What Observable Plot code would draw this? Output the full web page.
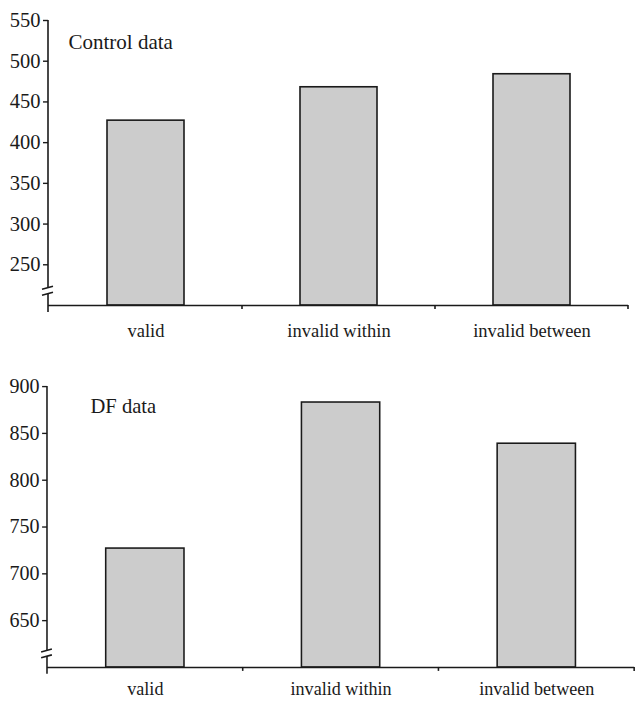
<!DOCTYPE html>
<html><head><meta charset="utf-8">
<script src="https://cdn.jsdelivr.net/npm/d3@7"></script>
<script src="https://cdn.jsdelivr.net/npm/@observablehq/plot@0.6"></script>
<style>
html,body{margin:0;padding:0;background:#fff}
body{width:642px;height:706px;overflow:hidden}
#wrap{width:642px;height:706px;overflow:hidden}
#wrap svg{display:block;font-family:"Liberation Serif","Times New Roman",Times,serif !important}
#wrap svg text{font-family:"Liberation Serif","Times New Roman",Times,serif !important}
</style></head><body><div id="wrap"></div>
<script>
const categories = ["valid", "invalid within", "invalid between"];
const controlValues = [427, 468, 484];
const dfValues = [727, 883, 839];
const controlTicks = [250, 300, 350, 400, 450, 500, 550];
const dfTicks = [650, 700, 750, 800, 850, 900];
const controlDomain = [200, 550];
const dfDomain = [600, 900];
const controlBreak = 218;
const dfBreak = 615;
const titles = ["Control data", "DF data"];

const ink = "#1a1a1a";
const serif = "Liberation Serif";

function panel(o) {
  const data = categories.map((c, i) => ({category: c, value: o.values[i], base: o.domain[0]}));
  const decor = (index, scales, values, dims) => {
    const x = scales.x, y = scales.y;
    const left = dims.marginLeft;
    const y0 = y(o.domain[0]), yTop = y(o.domain[1]);
    const step = x(categories[1]) - x(categories[0]);
    const g = d3.create("svg:g").attr("fill", "none").attr("stroke", ink).attr("stroke-width", 1.6);
    g.append("line").attr("x1", left).attr("x2", left).attr("y1", yTop).attr("y2", y0 + 7);
    categories.forEach(c => {
      const bx = x(c) + step;
      g.append("line").attr("x1", bx).attr("x2", bx).attr("y1", y0).attr("y2", y0 + 4);
    });
    const yb = y(o.breakAt);
    g.append("polygon")
      .attr("points", `${left - 6},${yb - 1} ${left + 5},${yb - 4} ${left + 5},${yb + 2} ${left - 6},${yb + 5}`)
      .attr("fill", "#fff").attr("stroke", "none");
    g.append("line").attr("x1", left - 6).attr("y1", yb - 1).attr("x2", left + 5).attr("y2", yb - 4);
    g.append("line").attr("x1", left - 6).attr("y1", yb + 5).attr("x2", left + 5).attr("y2", yb + 2);
    return g.node();
  };
  return Plot.plot({
    width: o.width, height: o.height,
    marginLeft: 48, marginRight: o.marginRight, marginTop: o.marginTop, marginBottom: o.marginBottom,
    style: {fontFamily: serif, color: ink, background: "#fff", overflow: "visible"},
    x: {domain: categories, padding: 0, label: null},
    y: {domain: o.domain, label: null},
    marks: [
      Plot.barY(data, {x: "category", y1: "base", y2: "value", fill: "#cccccc", stroke: ink, strokeWidth: 1.6, insetLeft: o.inset, insetRight: o.inset}),
      Plot.ruleY([o.domain[0]], {stroke: ink, strokeWidth: 1.6}),
      Plot.axisY({ticks: o.ticks, tickSize: 5, tickPadding: 3, tickFormat: d => String(d), fontSize: 20.5, fontFamily: serif, strokeWidth: 1.4, label: null}),
      Plot.axisX({tickSize: 0, tickPadding: o.labelPad, fontSize: 18.5, fontFamily: serif, label: null}),
      Plot.text([o.title], {text: d => d, frameAnchor: "top-left", dx: o.titleDx, dy: o.titleDy, textAnchor: "start", lineAnchor: "bottom", fontSize: 21, fontFamily: serif, fill: ink}),
      decor
    ]
  });
}

const wrap = document.getElementById("wrap");
wrap.appendChild(panel({
  values: controlValues, ticks: controlTicks, domain: controlDomain, breakAt: controlBreak, title: titles[0],
  width: 642, height: 345, marginTop: 20, marginBottom: 40, marginRight: 14, inset: 58, labelPad: 18,
  titleDx: 20, titleDy: 28
}));
wrap.appendChild(panel({
  values: dfValues, ticks: dfTicks, domain: dfDomain, breakAt: dfBreak, title: titles[1],
  width: 656, height: 361, marginTop: 42, marginBottom: 32, marginRight: 8, inset: 60, labelPad: 15,
  titleDx: 44, titleDy: 27
}));
</script></body></html>
